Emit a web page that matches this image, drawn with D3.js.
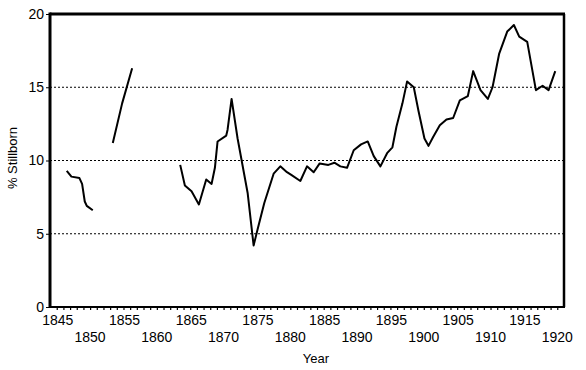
<!DOCTYPE html>
<html>
<head>
<meta charset="utf-8">
<script src="https://cdn.jsdelivr.net/npm/d3@7"></script>
<style>
  body { margin: 0; background: #fff; }
  svg text { font-family: "Liberation Sans", Arial, sans-serif; fill: #000; }
</style>
</head>
<body>
<svg id="chart" width="586" height="370"></svg>
<script>
// data, three unconnected runs of the series
const seg1Years = [1846.5, 1847.2, 1848.4, 1848.8, 1849.2, 1849.5, 1850.4]
const seg1Vals  = [9.3, 8.9, 8.8, 8.4, 7.2, 6.9, 6.6]

const seg2Years = [1853.4, 1854.8, 1856.3]
const seg2Vals  = [11.2, 13.9, 16.3]

const seg3Years = [1863.5, 1864.2, 1865.2, 1866.3, 1867.4, 1868.2, 1868.7, 1869.1, 1870.4, 1870.6,
  1871.2, 1872.1, 1873.6, 1874.5, 1875.1, 1876.1, 1877.5, 1878.5, 1879.5, 1880.2,
  1881.5, 1882.5, 1883.5, 1884.4, 1885.7, 1886.6, 1887.5, 1888.5, 1889.5, 1890.6,
  1891.6, 1892.5, 1893.5, 1894.5, 1895.3, 1895.9, 1896.8, 1897.5, 1898.5, 1899.2,
  1900.1, 1900.7, 1901.4, 1902.4, 1903.4, 1904.4, 1905.4, 1906.6, 1907.4, 1908.5,
  1909.6, 1910.3, 1911.3, 1912.5, 1913.5, 1914.3, 1915.5, 1916.8, 1917.8, 1918.7, 1919.7]
const seg3Vals  = [9.7, 8.3, 7.9, 7.0, 8.7, 8.4, 9.5, 11.3, 11.7, 12.1,
  14.2, 11.5, 7.8, 4.2, 5.3, 7.1, 9.1, 9.6, 9.2, 9.0,
  8.6, 9.6, 9.2, 9.8, 9.7, 9.85, 9.6, 9.5, 10.7, 11.1,
  11.3, 10.3, 9.6, 10.5, 10.9, 12.3, 13.9, 15.4, 15.0, 13.4,
  11.5, 11.0, 11.6, 12.4, 12.8, 12.9, 14.1, 14.4, 16.1, 14.8,
  14.2, 15.0, 17.3, 18.8, 19.25, 18.45, 18.1, 14.8, 15.1, 14.8, 16.1]

const yTicks = [0, 5, 10, 15, 20]
const gridVals = [5, 10, 15]
const xTicksTop = [1845, 1855, 1865, 1875, 1885, 1895, 1905, 1915]
const xTicksLow = [1850, 1860, 1870, 1880, 1890, 1900, 1910, 1920]

const frame = {left: 50, right: 564, top: 14, bottom: 307}

const svg = d3.select("#chart")

const x = d3.scaleLinear().domain([1844.5, 1920.5]).range([53.4, 560.6])
const y = d3.scaleLinear().domain([0, 20]).range([frame.bottom, frame.top])

// dotted grid lines
svg.selectAll("line.grid")
  .data(gridVals)
  .enter().append("line")
  .attr("class", "grid")
  .attr("x1", frame.left).attr("x2", frame.right)
  .attr("y1", d => y(d)).attr("y2", d => y(d))
  .attr("stroke", "#000")
  .attr("stroke-width", 1)
  .attr("stroke-dasharray", "2,2")

// yearly ticks under the baseline
svg.append("g")
  .attr("transform", "translate(0," + frame.bottom + ")")
  .call(d3.axisBottom(x).tickValues(d3.range(1845, 1921)).tickSize(3).tickFormat(""))
  .call(g => g.select(".domain").remove())
  .call(g => g.selectAll("line").attr("stroke-width", 1.2))

// two rows of year labels
svg.selectAll("text.xtop")
  .data(xTicksTop)
  .enter().append("text")
  .attr("x", d => x(d) + 1)
  .attr("y", 325)
  .attr("text-anchor", "middle")
  .style("font-size", "14px")
  .text(d => d)

svg.selectAll("text.xlow")
  .data(xTicksLow)
  .enter().append("text")
  .attr("x", d => x(d))
  .attr("y", 342)
  .attr("text-anchor", "middle")
  .style("font-size", "14px")
  .text(d => d)

// y axis ticks + labels
svg.append("g")
  .attr("transform", "translate(" + frame.left + ",0)")
  .call(d3.axisLeft(y).tickValues(yTicks).tickSize(4).tickPadding(2))
  .call(g => g.select(".domain").remove())
  .call(g => g.selectAll("text").style("font-size", "14px").style("font-family", "Liberation Sans, Arial, sans-serif"))

// frame: thick top and left, thinner bottom and right
svg.append("line").attr("x1", frame.left).attr("x2", frame.left)
  .attr("y1", frame.top - 1.5).attr("y2", frame.bottom + 1)
  .attr("stroke", "#000").attr("stroke-width", 3)
svg.append("line").attr("x1", frame.left).attr("x2", frame.right + 1)
  .attr("y1", frame.top).attr("y2", frame.top)
  .attr("stroke", "#000").attr("stroke-width", 3)
svg.append("line").attr("x1", frame.right).attr("x2", frame.right)
  .attr("y1", frame.top).attr("y2", frame.bottom)
  .attr("stroke", "#000").attr("stroke-width", 2.5)
svg.append("line").attr("x1", frame.left).attr("x2", frame.right + 1)
  .attr("y1", frame.bottom).attr("y2", frame.bottom)
  .attr("stroke", "#000").attr("stroke-width", 2)

// the series
const line = d3.line()
  .x(d => x(d[0]))
  .y(d => y(d[1]))

const segments = [
  d3.zip(seg1Years, seg1Vals),
  d3.zip(seg2Years, seg2Vals),
  d3.zip(seg3Years, seg3Vals)
]

svg.selectAll("path.series")
  .data(segments)
  .enter().append("path")
  .attr("class", "series")
  .attr("d", line)
  .attr("fill", "none")
  .attr("stroke", "#000")
  .attr("stroke-width", 2)
  .attr("stroke-linejoin", "round")

// axis titles
svg.append("text")
  .attr("x", 316).attr("y", 363)
  .attr("text-anchor", "middle")
  .style("font-size", "13px")
  .text("Year")

svg.append("text")
  .attr("transform", "translate(17,158) rotate(-90)")
  .attr("text-anchor", "middle")
  .style("font-size", "13px")
  .text("% Stillborn")
</script>
</body>
</html>
